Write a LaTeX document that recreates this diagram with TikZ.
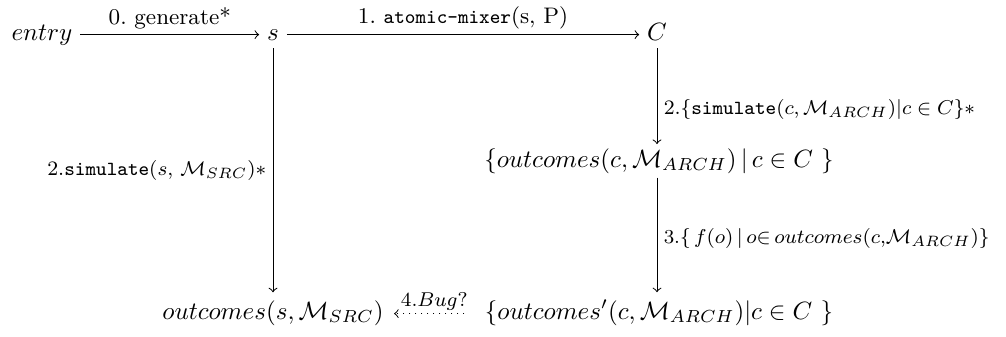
\documentclass[tikz,border=0pt]{standalone}
\newcommand\ttlab[1]{{\fontsize{8}{9}\selectfont\texttt{#1}}}
\begin{document}
\begin{tikzpicture}[x=0.4pt,y=-0.4pt,
  obj/.style={inner sep=3pt},
  lab/.style={font=\small, inner sep=2pt},
  vlab/.style={font=\fontsize{8.2}{10}\selectfont, inner sep=2.5pt},
  arr/.style={->},
  dotarr/.style={->, dotted}]
\useasboundingbox (0,0) rectangle (1006,336);
\node[obj, anchor=base] (entry) at (42,40) {$entry$};
\node[obj, anchor=base] (s) at (273,40) {$s$};
\node[obj, anchor=base] (C) at (657,40) {$C$};
\node[obj, anchor=base, inner sep=1.5pt] (mid) at (659,167) {$\{outcomes(c,\mathcal{M}_{ARCH})\,|\,c\in C\ \}$};
\node[obj, anchor=base] (bl) at (273,319) {$outcomes(s,\mathcal{M}_{SRC})$};
\node[obj, anchor=base] (br) at (659,319) {$\{outcomes'(c,\mathcal{M}_{ARCH})|c\in C\ \}$};

\draw[arr] (entry.mid east) -- node[lab, above] {0.~generate*} (s.mid west);
\draw[arr] (s.mid east) -- node[lab, above] {1.~\ttlab{atomic-mixer}(s, P)} (C.mid west);
\draw[arr] (s.south) -- node[vlab, left] {2.\ttlab{simulate}$(s,$ $\mathcal{M}_{SRC})*$} (bl.north);
\draw[arr] (C.south) -- node[vlab, right, pos=0.64] {2.$\{$\ttlab{simulate}$(c,\mathcal{M}_{ARCH})|c\in C\}*$} (C.south |- mid.north);
\draw[arr] (C |- mid.south) -- node[vlab, font=\fontsize{7.9}{10}\selectfont, right, pos=0.53] {3.$\{\,f(o)\,|\,o{\in}\,outcomes(c{,}\mathcal{M}_{ARCH})\}$} (C |- br.north);
\draw[dotarr, shorten <=5pt, shorten >=1pt] (br.mid west) -- node[font=\footnotesize, above, inner sep=1pt] {$4.Bug?$} (bl.mid east);
\end{tikzpicture}
\end{document}
